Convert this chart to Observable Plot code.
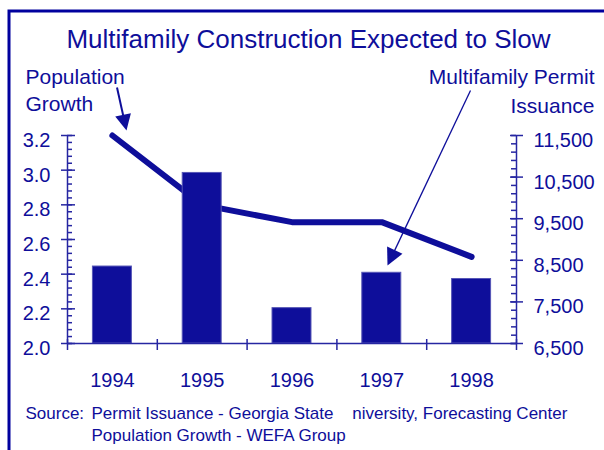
<!DOCTYPE html>
<html><head><meta charset="utf-8">
<script src="https://cdn.jsdelivr.net/npm/d3@7"></script>
<script src="https://cdn.jsdelivr.net/npm/@observablehq/plot@0.6"></script>
<style>
html,body{margin:0;padding:0;background:#fff;overflow:hidden;}
#chart svg{display:block;}
</style></head><body><div id="chart"></div>
<script>
// ---- data ----
const years = ["1994", "1995", "1996", "1997", "1998"];
const permits = [8350, 10600, 7350, 8200, 8050];          // right axis, bars
const popGrowth = [3.2, 2.8, 2.7, 2.7, 2.5];               // left axis, line
const popTicks = [2.0, 2.2, 2.4, 2.6, 2.8, 3.0, 3.2];
const permitTicks = [6500, 7500, 8500, 9500, 10500, 11500];
const titleText = "Multifamily Construction Expected to Slow";
const popLabel = "Population\nGrowth";
const permitLabel = "Multifamily Permit\nIssuance";
const sourceLead = "Source:";
const sourceLines = "Permit Issuance - Georgia State\u00a0\u00a0\u00a0\u00a0niversity, Forecasting Center\nPopulation Growth - WEFA Group";

// ---- layout / style ----
const W = 604, H = 450, mL = 67, mR = 88, mT = 135, mB = 107;
const fw = W - mL - mR, fh = H - mT - mB;
const navy = "#0e0e9a", axisCol = "#2626a2", border = "#00009e";
const font = "'Liberation Sans', Arial, Helvetica, sans-serif";

const p0 = popTicks[0], p1 = popTicks[popTicks.length - 1];
const q0 = permitTicks[0], q1 = permitTicks[permitTicks.length - 1];
const popToY = p => q0 + (p - p0) / (p1 - p0) * (q1 - q0);
const yToPop = y => p0 + (y - q0) / (q1 - q0) * (p1 - p0);

const table = years.map((year, i) => ({year, i, permits: permits[i], pop: popGrowth[i]}));
const popMinor = d3.range(p0, p1 + 1e-9, 0.04);
const permitMinor = d3.range(q0, q1 + 1e-9, 200);
const nCat = years.length;

// annotation arrows (pixel positions on the picture)
const px2x = px => (px - mL) / fw * nCat;
const py2y = py => q0 + (mT + fh - py) / fh * (q1 - q0);
function arrow(from, to, head) {
  const dx = to[0] - from[0], dy = to[1] - from[1], len = Math.hypot(dx, dy);
  const bx = to[0] - dx / len * (head - 3), by = to[1] - dy / len * (head - 3);
  return {x1: px2x(from[0]), y1: py2y(from[1]), x2: px2x(bx), y2: py2y(by),
          tx: px2x(to[0]), ty: py2y(to[1]), rot: Math.atan2(dx, -dy) * 180 / Math.PI};
}
const popArrow = [arrow([116.5, 87], [126, 130], 16)];
const permitArrow = [arrow([470, 90], [387, 265], 17)];

const halfBar = 0.217;

const chart = Plot.plot({
  width: W, height: H,
  marginLeft: mL, marginRight: mR, marginTop: mT, marginBottom: mB,
  style: {color: navy, fontFamily: font, background: "white", overflow: "visible"},
  x: {domain: [0, nCat]},
  y: {domain: [q0, q1]},
  marks: [
    Plot.frame({stroke: border, strokeWidth: 3, insetLeft: -(mL - 8.5), insetTop: -(mT - 10.5), insetRight: -(mR + 30), insetBottom: -(mB + 30)}),
    // population line (behind bars)
    Plot.line(table, {x: d => d.i + 0.5, y: d => popToY(d.pop), stroke: navy, strokeWidth: 6, strokeLinecap: "round", strokeLinejoin: "round"}),
    // permit bars
    Plot.rectY(table, {x1: d => d.i + 0.5 - halfBar, x2: d => d.i + 0.5 + halfBar, y1: q0, y2: d => d.permits, fill: navy, stroke: "#5656b6", strokeWidth: 1}),
    // axis lines
    Plot.ruleX([0, nCat], {stroke: axisCol, strokeWidth: 1.5}),
    Plot.ruleY([q0], {stroke: axisCol, strokeWidth: 1.5}),
    // category boundary ticks
    Plot.tickX(d3.range(0, nCat + 1), {x: d => d, stroke: axisCol, strokeWidth: 1.5, insetTop: fh - 4, insetBottom: -7}),
    // left ticks
    Plot.tickY(popMinor, {y: d => popToY(d), stroke: axisCol, strokeWidth: 1.5, insetLeft: 0, insetRight: fw - 5}),
    Plot.tickY(popTicks, {y: d => popToY(d), stroke: axisCol, strokeWidth: 1.5, insetLeft: -6, insetRight: fw - 8}),
    // right ticks
    Plot.tickY(permitMinor, {y: d => d, stroke: axisCol, strokeWidth: 1.5, insetLeft: fw - 5, insetRight: 0}),
    Plot.tickY(permitTicks, {y: d => d, stroke: axisCol, strokeWidth: 1.5, insetLeft: fw - 6, insetRight: -7}),
    // axis labels
    Plot.axisY({anchor: "left", ticks: popTicks.map(popToY), tickFormat: d => yToPop(d).toFixed(1), tickSize: 0, tickPadding: 17, fontSize: 20, dy: 5, label: null, fill: navy}),
    Plot.axisY({anchor: "right", ticks: permitTicks, tickFormat: d3.format(","), tickSize: 0, tickPadding: 17, fontSize: 20, dy: 5, label: null, fill: navy}),
    Plot.axisX({ticks: years.map((_, i) => i + 0.5), tickFormat: d => years[Math.round(d - 0.5)], tickSize: 0, tickPadding: 29, fontSize: 20, label: null, fill: navy}),
    // title & labels
    Plot.text([titleText], {text: d => d, frameAnchor: "top-left", dx: 308 - mL, dy: 47 - mT, lineAnchor: "bottom", textAnchor: "middle", fontSize: 26, fill: navy}),
    Plot.text([popLabel], {text: d => d, frameAnchor: "top-left", dx: 25 - mL, dy: 110.5 - mT, lineAnchor: "bottom", textAnchor: "start", fontSize: 21, lineHeight: 1.29, fill: navy}),
    Plot.text([permitLabel], {text: d => d, frameAnchor: "top-left", dx: 594 - mL, dy: 112 - mT, lineAnchor: "bottom", textAnchor: "end", fontSize: 21, lineHeight: 1.38, fill: navy}),
    Plot.text([sourceLead], {text: d => d, frameAnchor: "top-left", dx: 25 - mL, dy: 418 - mT, lineAnchor: "bottom", textAnchor: "start", fontSize: 17, fill: navy}),
    Plot.text([sourceLines], {text: d => d, frameAnchor: "top-left", dx: 91 - mL, dy: 440 - mT, lineAnchor: "bottom", textAnchor: "start", fontSize: 17, lineHeight: 1.28, fill: navy}),
    // arrows
    Plot.link(popArrow, {x1: "x1", y1: "y1", x2: "x2", y2: "y2", stroke: navy, strokeWidth: 2}),
    Plot.vector(popArrow, {x: "tx", y: "ty", rotate: "rot", length: 16, shape: "spike", r: 8, anchor: "end", fill: navy, stroke: "none"}),
    Plot.link(permitArrow, {x1: "x1", y1: "y1", x2: "x2", y2: "y2", stroke: navy, strokeWidth: 1.3}),
    Plot.vector(permitArrow, {x: "tx", y: "ty", rotate: "rot", length: 17, shape: "spike", r: 8.5, anchor: "end", fill: navy, stroke: "none"})
  ]
});
document.getElementById("chart").append(chart);
</script>
</body></html>
